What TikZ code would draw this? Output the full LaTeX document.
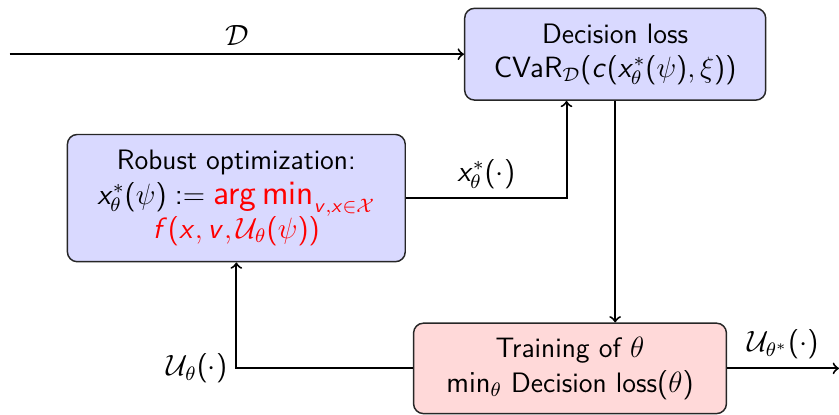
\documentclass[tikz,border=0pt]{standalone}
\usepackage{amsmath,amssymb}
\usepackage{color}
\usepackage{tikz}
\usetikzlibrary{arrows}
\usetikzlibrary{calc}
\DeclareSymbolFont{operators}{OT1}{cmss}{m}{n}
\DeclareMathAlphabet{\mathsfit}{OT1}{cmss}{m}{sl}
\newcommand{\sx}{\mathsfit{x}}
\newcommand{\sv}{\mathsfit{v}}
\newcommand{\bigargmin}{\mathop{\text{\fontsize{14}{14}\selectfont arg\,min}}\nolimits}

\begin{document}
\begin{tikzpicture}[
    every node/.style={font=\sffamily\fontsize{11.5}{14}\selectfont},
    block/.style={draw=black!85, semithick, rounded corners, align=center},
    decbox/.style={block, fill=blue!15, minimum width=4.33cm, minimum height=1.32cm},
    robbox/.style={block, fill=blue!15, minimum width=4.86cm, minimum height=1.83cm},
    trainbox/.style={block, fill=red!15, minimum width=4.5cm, minimum height=1.3cm},
    flow/.style={->, thick}
  ]
    \useasboundingbox (0,0) rectangle (12.07,5.96);
    \node[decbox] (dec) at (8.85,5.18) {Decision loss\\ $\mathrm{CVaR}_{\mathcal{D}}(\mathsfit{c}(\sx^*_\theta(\psi),\xi))$};
    \node[robbox] (rob) at (3.40,3.11) {Robust optimization:\\ $\sx^*_\theta(\psi) := {\color{red}\bigargmin_{\sv,\sx\in\mathcal{X}}}$\\ $\color{red}\mathsfit{f}(\sx,\sv,\mathcal{U}_\theta(\psi))$};
    \node[trainbox] (train) at (8.20,0.66) {Training of $\theta$\\ $\min_\theta$ Decision loss$(\theta)$};
    \coordinate (in) at (0.14,5.18);
    \coordinate (out) at (12.07,0.66);
    \draw[flow] (in) -- (dec.west) node[midway, above] {$\mathcal{D}$};
    \draw[flow] (rob.east) -| ($(dec.south)+(-0.7,0)$) node[pos=0.25, above] {$\sx^*_\theta(\cdot)$};
    \draw[flow] (dec.south) -- (dec.south |- train.north);
    \draw[flow] (train.west) -| (rob.south) node[pos=0.5, left] {$\mathcal{U}_\theta(\cdot)$};
    \draw[flow] (train.east) -- (out) node[midway, above] {$\mathcal{U}_{\theta^*}(\cdot)$};
  \end{tikzpicture}
\end{document}
